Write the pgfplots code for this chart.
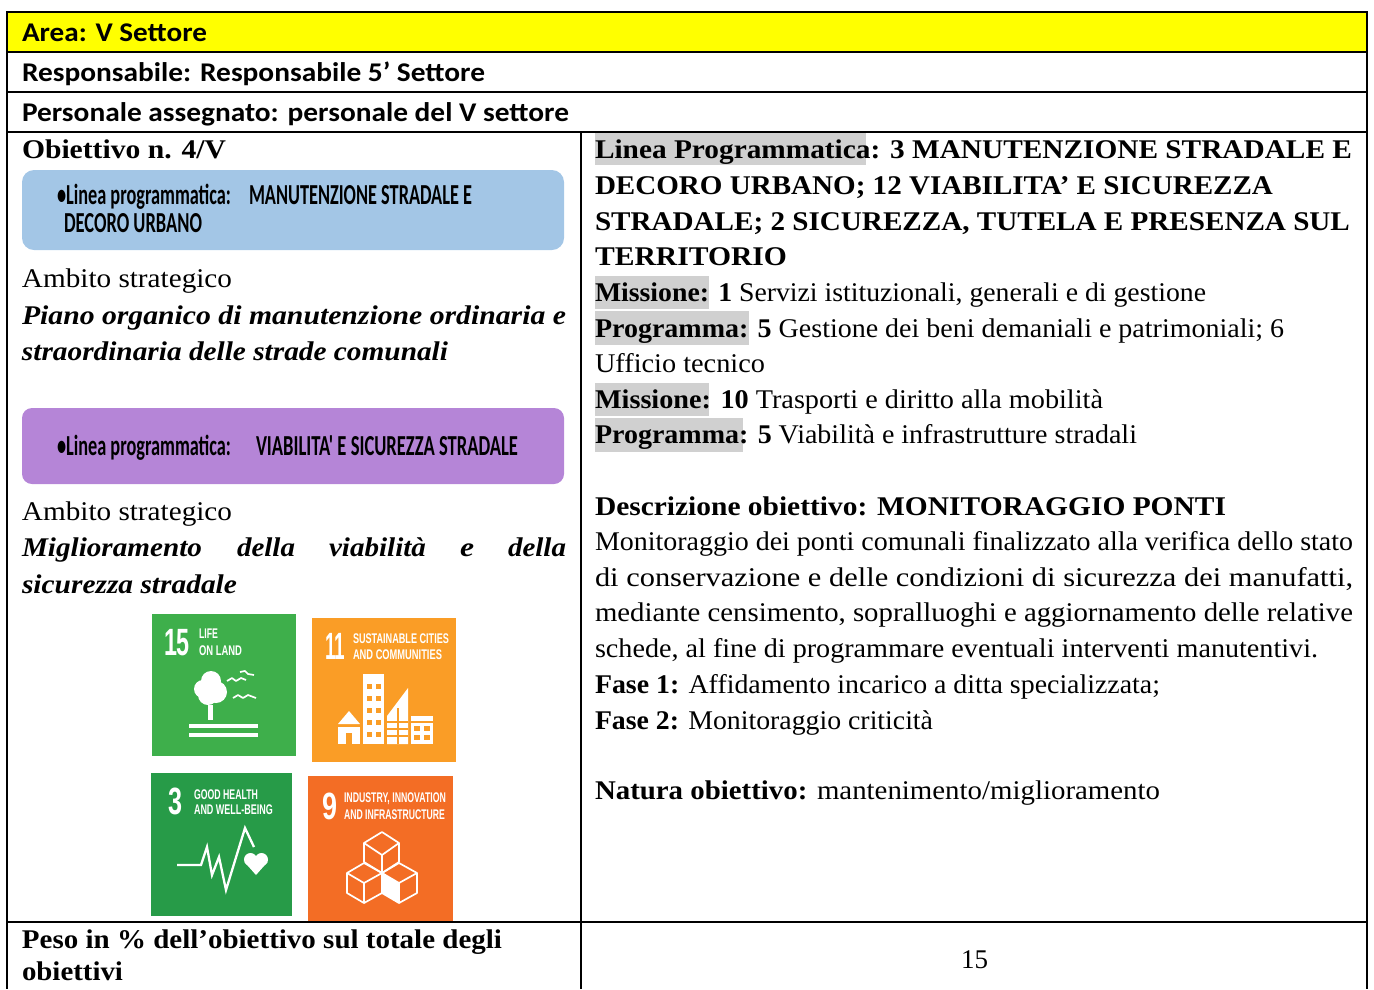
\documentclass[border=0pt]{standalone}
\usepackage{fontspec}
\usepackage{graphicx}
\usepackage{pgfplots}
\pgfplotsset{compat=1.18}
\setmainfont{Liberation Serif}
\newfontfamily\car{Carlito}
\newfontfamily\lsans{Liberation Sans}
\definecolor{hl}{HTML}{D0D0D0}
\definecolor{hdr}{HTML}{FFFF00}
\definecolor{boxa}{HTML}{A3C6E6}
\definecolor{boxb}{HTML}{B585D7}
\definecolor{sdga}{HTML}{3EAF4B}
\definecolor{sdgb}{HTML}{FA9D26}
\definecolor{sdgc}{HTML}{279B48}
\definecolor{sdgd}{HTML}{F36D25}
\newlength\tw
\newsavebox\fitbox
\newcommand\fit[2]{\sbox\fitbox{#2}\setlength\tw{\wd\fitbox}\pgfmathsetmacro\sx{#1/\tw}\scalebox{\sx}[1]{\usebox\fitbox}}
\newcommand\T[5][black]{\node[anchor=base west,inner sep=0pt,outer sep=0pt,text=#1] at (axis cs:#2,#3) {\fit{#4}{#5}};}
\newcommand\fs[1]{\fontsize{#1}{#1}\selectfont}
\newcommand\B[1]{\textbf{#1}}
\newcommand\rect[5]{\addplot[fill=#1,draw=none,forget plot] coordinates {(#2,#3)(#4,#3)(#4,#5)(#2,#5)} --cycle;}
\newcommand\seg[4]{\addplot[draw=black,line width=2pt,forget plot] coordinates {(#1,#2)(#3,#4)};}
\newcommand\wl[1]{\addplot[draw=white,line width=1.7pt,line join=round,forget plot] coordinates {#1};}
\newcommand\wf[1]{\addplot[fill=white,draw=none,forget plot] coordinates {#1} --cycle;}
\begin{document}
\begin{tikzpicture}
\begin{axis}[
  width=1374pt,height=989pt,scale only axis,
  xmin=0,xmax=1374,ymin=0,ymax=989,y dir=reverse,
  axis lines=none,clip=false,no markers,
]
\path[use as bounding box] (axis cs:0,0) rectangle (axis cs:1374,989);
% fills
\rect{hdr}{7}{12}{1367}{52}
\rect{hl}{595}{133}{866}{165}
\rect{hl}{595}{276}{709}{309}
\rect{hl}{595}{311}{749}{345}
\rect{hl}{595}{383}{709}{416}
\rect{hl}{595}{418}{743}{452}
% rounded boxes
\fill[boxa,rounded corners=12pt] (axis cs:22,170) rectangle (axis cs:564,250);
\fill[boxb,rounded corners=10pt] (axis cs:22,408) rectangle (axis cs:564,484);
% rules
\seg{7}{12}{1367}{12}
\seg{7}{52}{1367}{52}
\seg{7}{92}{1367}{92}
\seg{7}{132}{1367}{132}
\seg{7}{922}{1367}{922}
\seg{7}{11}{7}{989}
\seg{1367}{11}{1367}{989}
\seg{581}{132}{581}{989}
% header
\T{22}{41}{185}{\car\bfseries\fs{27}Area: V Settore}
\T{22}{81}{463}{\car\bfseries\fs{27}Responsabile: Responsabile 5’ Settore}
\T{22}{121}{547}{\car\bfseries\fs{27}Personale assegnato: personale del V settore}
% left column
\T{22}{158}{204}{\fs{27}\B{Obiettivo n. 4/V}}
\T{57}{204}{174}{\car\bfseries\fs{29}•Linea programmatica:}
\T{249}{204}{223}{\car\bfseries\fs{29}MANUTENZIONE STRADALE E}
\T{64}{232}{138}{\car\bfseries\fs{29}DECORO URBANO}
\T{22}{287}{210}{\fs{27}Ambito strategico}
\T{22}{324}{544}{\fs{27}\bfseries\itshape Piano organico di manutenzione ordinaria e}
\T{22}{360}{426}{\fs{27}\bfseries\itshape straordinaria delle strade comunali}
\T{57}{455}{174}{\car\bfseries\fs{29}•Linea programmatica:}
\T{256}{455}{262}{\car\bfseries\fs{29}VIABILITA' E SICUREZZA STRADALE}
\T{22}{520}{210}{\fs{27}Ambito strategico}
\T{22}{556}{180}{\fs{27}\bfseries\itshape Miglioramento}
\T{237}{556}{58}{\fs{27}\bfseries\itshape della}
\T{329}{556}{97}{\fs{27}\bfseries\itshape viabilità}
\T{460}{556}{14}{\fs{27}\bfseries\itshape e}
\T{508}{556}{58}{\fs{27}\bfseries\itshape della}
\T{22}{593}{215}{\fs{27}\bfseries\itshape sicurezza stradale}
% SDG tiles
\rect{sdga}{152}{614}{296}{756}
\rect{sdgb}{312}{618}{456}{762}
\rect{sdgc}{151}{773}{292}{916}
\rect{sdgd}{308}{776}{453}{921}
% tile 15
\T[white]{164}{655}{26}{\lsans\bfseries\fs{38}15}
\T[white]{199}{638}{19}{\lsans\bfseries\fs{14}LIFE}
\T[white]{199}{655}{43}{\lsans\bfseries\fs{14}ON LAND}
\fill[white] (axis cs:211,681) circle[radius=10pt];
\fill[white] (axis cs:203,689) circle[radius=9pt];
\fill[white] (axis cs:216,692) circle[radius=11pt];
\fill[white] (axis cs:208,695) circle[radius=10pt];
\rect{white}{208}{705}{213}{720}
\rect{white}{189}{724}{258}{728}
\rect{white}{189}{733}{258}{737}
\wl{(227,681)(232,678)(236,681)(241,678)(246,680)}
\wl{(240,672)(245,671)(248,674)(254,675)}
\wl{(233,698)(238,695)(243,698)(248,695)(256,698)}
% tile 11
\T[white]{325}{659}{20}{\lsans\bfseries\fs{38}11}
\T[white]{353}{643}{96}{\lsans\bfseries\fs{14}SUSTAINABLE CITIES}
\T[white]{353}{659}{89}{\lsans\bfseries\fs{14}AND COMMUNITIES}
\wf{(349,711)(360,724)(338,724)}
\rect{white}{338}{727}{360}{744}
\rect{sdgb}{346}{733}{352}{744}
\rect{white}{363}{674}{384}{744}
\addplot[draw=sdgb,line width=5pt,dash pattern=on 5pt off 7pt,forget plot] coordinates {(369.5,684)(369.5,740)};
\addplot[draw=sdgb,line width=5pt,dash pattern=on 5pt off 7pt,forget plot] coordinates {(378.5,684)(378.5,740)};
\wf{(387,716)(408,688)(408,744)(387,744)}
\addplot[draw=sdgb,line width=1.5pt,forget plot] coordinates {(387,722)(408,722)};
\addplot[draw=sdgb,line width=1.5pt,forget plot] coordinates {(387,729)(408,729)};
\addplot[draw=sdgb,line width=1.5pt,forget plot] coordinates {(387,736)(408,736)};
\addplot[draw=sdgb,line width=1.5pt,forget plot] coordinates {(398,708)(398,744)};
\rect{white}{411}{716}{433}{744}
\addplot[draw=sdgb,line width=1.5pt,forget plot] coordinates {(411,722)(433,722)};
\rect{sdgb}{414}{726}{420}{731}
\rect{sdgb}{424}{726}{430}{731}
\rect{sdgb}{414}{735}{420}{740}
\rect{sdgb}{424}{735}{430}{740}
% tile 3
\T[white]{168}{814}{14}{\lsans\bfseries\fs{38}3}
\T[white]{194}{799}{64}{\lsans\bfseries\fs{14}GOOD HEALTH}
\T[white]{194}{814}{79}{\lsans\bfseries\fs{14}AND WELL-BEING}
\addplot[draw=white,line width=2.3pt,forget plot] coordinates {(177,865)(201,865)(207,847)(212,875)(219,857)(226,890)(245,828)(254,847)};
\fill[white] (axis cs:250.5,859.5) circle[radius=6.5pt];
\fill[white] (axis cs:261.5,859.5) circle[radius=6.5pt];
\wf{(244.5,862)(267.5,862)(256,875)}
% tile 9
\T[white]{322}{819}{15}{\lsans\bfseries\fs{38}9}
\T[white]{344}{802}{102}{\lsans\bfseries\fs{14}INDUSTRY, INNOVATION}
\T[white]{344}{819}{101}{\lsans\bfseries\fs{14}AND INFRASTRUCTURE}
\wf{(382,873)(399,883)(399,903)(382,893)}
\wl{(382,832)(399,843)(399,862)(382,873)(364,862)(364,843)(382,832)}
\wl{(364,843)(382,855)(399,843)}
\wl{(382,855)(382,873)}
\wl{(364,863)(382,873)(382,893)(364,903)(347,893)(347,873)(364,863)}
\wl{(347,873)(364,883)(382,873)}
\wl{(364,883)(364,903)}
\wl{(399,863)(417,873)(417,893)(399,903)(382,893)(382,873)(399,863)}
\wl{(382,873)(399,883)(417,873)}
\wl{(399,883)(399,903)}
% left bottom
\T{22}{948}{480}{\fs{27}\B{Peso in \% dell’obiettivo sul totale degli}}
\T{22}{980}{101}{\fs{27}\B{obiettivi}}
% right column
\T{595}{158}{757}{\fs{27}\B{Linea Programmatica: 3 MANUTENZIONE STRADALE E}}
\T{595}{194}{678}{\fs{27}\B{DECORO URBANO; 12 VIABILITA’ E SICUREZZA}}
\T{595}{230}{755}{\fs{27}\B{STRADALE; 2 SICUREZZA, TUTELA E PRESENZA SUL}}
\T{595}{265}{192}{\fs{27}\B{TERRITORIO}}
\T{595}{301}{611}{\fs{27}\B{Missione: 1} Servizi istituzionali, generali e di gestione}
\T{595}{337}{689}{\fs{27}\B{Programma: 5} Gestione dei beni demaniali e patrimoniali; 6}
\T{595}{372}{170}{\fs{27}Ufficio tecnico}
\T{595}{408}{508}{\fs{27}\B{Missione: 10} Trasporti e diritto alla mobilità}
\T{595}{443}{542}{\fs{27}\B{Programma: 5} Viabilità e infrastrutture stradali}
\T{595}{515}{631}{\fs{27}\B{Descrizione obiettivo: MONITORAGGIO PONTI}}
\T{595}{550}{758}{\fs{27}Monitoraggio dei ponti comunali finalizzato alla verifica dello stato}
\T{595}{586}{758}{\fs{27}di conservazione e delle condizioni di sicurezza dei manufatti,}
\T{595}{621}{758}{\fs{27}mediante censimento, sopralluoghi e aggiornamento delle relative}
\T{595}{657}{723}{\fs{27}schede, al fine di programmare eventuali interventi manutentivi.}
\T{595}{693}{565}{\fs{27}\B{Fase 1:} Affidamento incarico a ditta specializzata;}
\T{595}{729}{338}{\fs{27}\B{Fase 2:} Monitoraggio criticità}
\T{595}{799}{565}{\fs{27}\B{Natura obiettivo:} mantenimento/miglioramento}
\T{961}{968}{27}{\fs{27}15}
\end{axis}
\end{tikzpicture}
\end{document}
